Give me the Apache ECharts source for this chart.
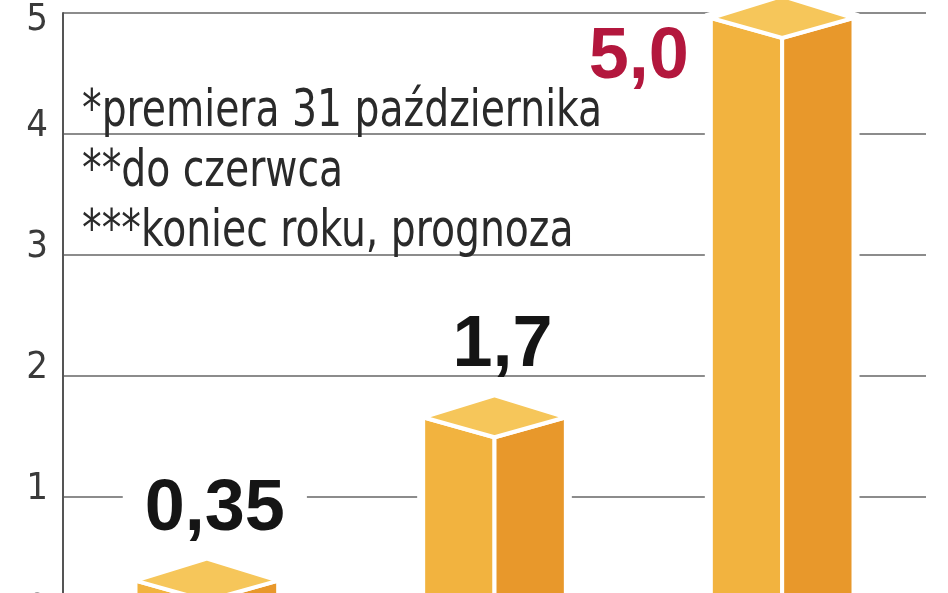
<!DOCTYPE html>
<html><head><meta charset="utf-8">
<script src="https://cdn.jsdelivr.net/npm/echarts@6/dist/echarts.min.js"></script>
<style>html,body{margin:0;padding:0;background:#fff}#c{width:948px;height:593px}</style>
</head><body><div id="c"></div>
<script>
// ---- data ----
const categories = ['1', '2', '3'];
const values = [0.35, 1.7, 5.0];
const valueLabels = ['0,35', '1,7', '5,0'];
const yTickLabels = ['0', '1', '2', '3', '4', '5'];
const footnotes = ['*premiera 31 października', '**do czerwca', '***koniec roku, prognoza'];

// ---- style ----
const NARROW = "'Liberation Sans Narrow', 'DejaVu Sans Condensed', 'Roboto', sans-serif";
const BOLD = "'Liberation Sans', Arial, sans-serif";
const C_LEFT = '#F2B33F', C_RIGHT = '#E8982B', C_TOP = '#F6C65A';

function renderItem(params, api) {
  const i = api.value(0), v = api.value(1);
  const top = api.coord([i, v]);
  const base = api.coord([i, 0]);
  const band = api.size([1, 0])[0];
  const hw = band * 0.248;
  const dyD = 20, dyU = 22;
  const xm = top[0], xl = xm - hw, xr = xm + hw;
  const yc = top[1] + 5, yb = base[1] + 40;
  const last = params.dataIndex === values.length - 1;
  const above = (yc - dyU - 80) > 0;
  const children = [
    {type: 'polygon', shape: {points: [[xl, yc], [xm, yc - dyU], [xr, yc], [xr, yb], [xl, yb]]},
     style: {fill: '#fff', stroke: '#fff', lineWidth: 12}},
    {type: 'polygon', shape: {points: [[xl, yc], [xm, yc + dyD], [xm, yb + dyD], [xl, yb]]},
     style: {fill: C_LEFT, stroke: '#fff', lineWidth: 4}},
    {type: 'polygon', shape: {points: [[xm, yc + dyD], [xr, yc], [xr, yb], [xm, yb + dyD]]},
     style: {fill: C_RIGHT, stroke: '#fff', lineWidth: 4}},
    {type: 'polygon', shape: {points: [[xl, yc], [xm, yc - dyU], [xr, yc], [xm, yc + dyD]]},
     style: {fill: C_TOP, stroke: '#fff', lineWidth: 4}},
    {type: 'text', x: above ? xm + 8 : xl - 22, y: above ? yc - dyU - 49 : yc + 40,
     style: {text: valueLabels[params.dataIndex], font: 'bold 72px ' + BOLD,
       fill: last ? '#B3173D' : '#151515', align: above ? 'center' : 'right', verticalAlign: 'middle',
       backgroundColor: above ? '#fff' : null, padding: above ? [0, 22, 0, 22] : 0, lineHeight: 56}}
  ];
  return {type: 'group', children};
}

const chart = echarts.init(document.getElementById('c'), null, {renderer: 'canvas'});
chart.setOption({
  animation: false,
  backgroundColor: '#fff',
  grid: {left: 63, right: 22, top: 13, bottom: -25, containLabel: false, outerBoundsMode: 'none'},
  xAxis: {type: 'category', data: categories, show: false},
  yAxis: {
    type: 'value', min: 0, max: 5, interval: 1,
    axisLine: {show: true, lineStyle: {color: '#555', width: 2}},
    axisTick: {show: false},
    splitLine: {lineStyle: {color: '#8c8c8c', width: 2}},
    axisLabel: {
      margin: 15, color: '#333',
      formatter: (v) => (v === 5 ? '{t|' : '{n|') + yTickLabels[Math.round(v)] + '}',
      rich: {
        n: {fontFamily: NARROW, fontSize: 38, color: '#3a3a3a', padding: [0, 0, 16, 0]},
        t: {fontFamily: NARROW, fontSize: 38, color: '#3a3a3a', padding: [14, 0, 0, 0]}
      }
    }
  },
  graphic: footnotes.map((t, k) => ({
    type: 'text', x: 82, y: 112 + 60 * k, scaleX: 0.84, z: 10,
    style: {text: t, font: '52px ' + NARROW, fill: '#2a2a2a', verticalAlign: 'middle'}
  })),
  series: [{type: 'custom', data: values.map((v, i) => [i, v]), renderItem, clip: false}]
});
</script></body></html>
